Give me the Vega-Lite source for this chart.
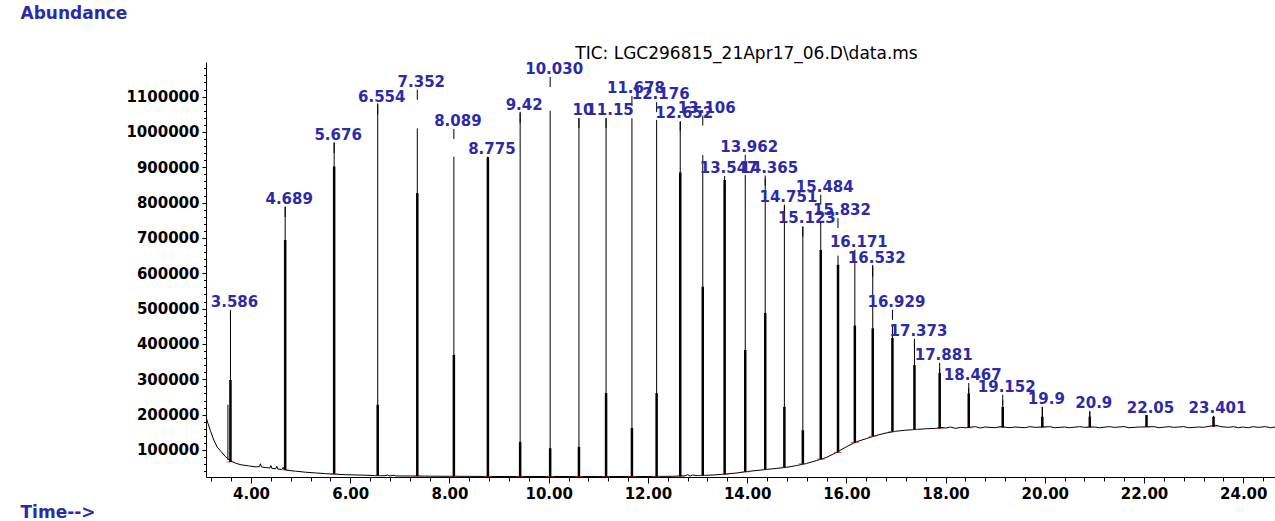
{
  "$schema": "https://vega.github.io/schema/vega-lite/v6.json",
  "width": 1069,
  "height": 415,
  "autosize": {"type": "none"},
  "padding": {"left": 206, "top": 62, "right": 0, "bottom": 44},
  "background": "white",
  "title": {"text": "TIC: LGC296815_21Apr17_06.D\\data.ms", "anchor": "middle", "dx": 6, "dy": 75, "offset": 3, "font": "DejaVu Sans", "fontSize": 17, "fontWeight": "normal", "color": "black", "baseline": "alphabetic"},
  "config": {
    "view": {"stroke": null},
    "axis": {"grid": false, "domainColor": "black", "tickColor": "black", "labelColor": "black", "labelFont": "DejaVu Sans", "labelFontWeight": "bold", "labelFontSize": 15, "titleFont": "DejaVu Sans", "titleFontWeight": "bold", "titleFontSize": 17, "titleColor": "#2b2ba8"}
  },
  "datasets": {
    "baseline": [
      {"rt": 3.093, "abundance": 178000}, {"rt": 3.11, "abundance": 186000}, {"rt": 3.13, "abundance": 176000}, {"rt": 3.18, "abundance": 155000},
      {"rt": 3.25, "abundance": 128000}, {"rt": 3.32, "abundance": 108000}, {"rt": 3.40, "abundance": 95000}, {"rt": 3.48, "abundance": 82000},
      {"rt": 3.55, "abundance": 73000}, {"rt": 3.62, "abundance": 67000}, {"rt": 3.70, "abundance": 62000}, {"rt": 3.80, "abundance": 58000},
      {"rt": 3.95, "abundance": 55000}, {"rt": 4.10, "abundance": 52000}, {"rt": 4.17, "abundance": 53000}, {"rt": 4.19, "abundance": 61000},
      {"rt": 4.21, "abundance": 52000}, {"rt": 4.30, "abundance": 50000}, {"rt": 4.38, "abundance": 49000}, {"rt": 4.40, "abundance": 56000},
      {"rt": 4.42, "abundance": 48000}, {"rt": 4.50, "abundance": 47000}, {"rt": 4.52, "abundance": 54000}, {"rt": 4.54, "abundance": 46000},
      {"rt": 4.62, "abundance": 45000}, {"rt": 4.65, "abundance": 51000}, {"rt": 4.67, "abundance": 44000}, {"rt": 4.75, "abundance": 42000},
      {"rt": 4.90, "abundance": 40000}, {"rt": 5.10, "abundance": 37000}, {"rt": 5.30, "abundance": 35000}, {"rt": 5.50, "abundance": 33000},
      {"rt": 5.70, "abundance": 31500}, {"rt": 5.90, "abundance": 30000}, {"rt": 6.20, "abundance": 29000}, {"rt": 6.50, "abundance": 27500},
      {"rt": 6.70, "abundance": 27000}, {"rt": 6.75, "abundance": 29000}, {"rt": 6.80, "abundance": 26500}, {"rt": 6.88, "abundance": 28500},
      {"rt": 6.92, "abundance": 26500}, {"rt": 7.00, "abundance": 26500}, {"rt": 7.50, "abundance": 26000}, {"rt": 8.00, "abundance": 25500},
      {"rt": 9.00, "abundance": 25000}, {"rt": 10.00, "abundance": 25000}, {"rt": 11.00, "abundance": 25000}, {"rt": 12.00, "abundance": 25000},
      {"rt": 12.50, "abundance": 25500}, {"rt": 12.75, "abundance": 27000}, {"rt": 12.80, "abundance": 30000}, {"rt": 12.85, "abundance": 26000},
      {"rt": 12.90, "abundance": 29000}, {"rt": 13.00, "abundance": 27500}, {"rt": 13.30, "abundance": 29000}, {"rt": 13.50, "abundance": 31000},
      {"rt": 13.80, "abundance": 35000}, {"rt": 14.00, "abundance": 39000}, {"rt": 14.20, "abundance": 42000}, {"rt": 14.40, "abundance": 45000},
      {"rt": 14.60, "abundance": 48000}, {"rt": 14.80, "abundance": 51000}, {"rt": 15.00, "abundance": 56000}, {"rt": 15.20, "abundance": 62000},
      {"rt": 15.40, "abundance": 70000}, {"rt": 15.60, "abundance": 79000}, {"rt": 15.80, "abundance": 93000}, {"rt": 16.00, "abundance": 109000},
      {"rt": 16.20, "abundance": 123000}, {"rt": 16.40, "abundance": 132000}, {"rt": 16.60, "abundance": 141000}, {"rt": 16.80, "abundance": 148000},
      {"rt": 17.00, "abundance": 153000}, {"rt": 17.20, "abundance": 156000}, {"rt": 17.40, "abundance": 158000}, {"rt": 17.60, "abundance": 160000},
      {"rt": 17.80, "abundance": 161000}, {"rt": 17.90, "abundance": 164000}, {"rt": 18.00, "abundance": 162000}, {"rt": 18.10, "abundance": 165000},
      {"rt": 18.20, "abundance": 161000}, {"rt": 18.30, "abundance": 164000}, {"rt": 18.40, "abundance": 163000}, {"rt": 18.60, "abundance": 166000},
      {"rt": 18.70, "abundance": 162000}, {"rt": 18.80, "abundance": 165000}, {"rt": 19.00, "abundance": 163000}, {"rt": 19.10, "abundance": 166000},
      {"rt": 19.30, "abundance": 163000}, {"rt": 19.40, "abundance": 165000}, {"rt": 19.60, "abundance": 163000}, {"rt": 19.70, "abundance": 166000},
      {"rt": 19.80, "abundance": 164000}, {"rt": 20.10, "abundance": 166000}, {"rt": 20.20, "abundance": 163000}, {"rt": 20.40, "abundance": 165000},
      {"rt": 20.50, "abundance": 163000}, {"rt": 20.70, "abundance": 166000}, {"rt": 20.80, "abundance": 164000}, {"rt": 21.00, "abundance": 165000},
      {"rt": 21.10, "abundance": 163000}, {"rt": 21.30, "abundance": 166000}, {"rt": 21.40, "abundance": 164000}, {"rt": 21.60, "abundance": 166000},
      {"rt": 21.70, "abundance": 163000}, {"rt": 21.90, "abundance": 165000}, {"rt": 22.20, "abundance": 166000}, {"rt": 22.30, "abundance": 163000},
      {"rt": 22.50, "abundance": 166000}, {"rt": 22.60, "abundance": 164000}, {"rt": 22.80, "abundance": 166000}, {"rt": 22.90, "abundance": 163000},
      {"rt": 23.10, "abundance": 165000}, {"rt": 23.20, "abundance": 164000}, {"rt": 23.35, "abundance": 168000}, {"rt": 23.45, "abundance": 170000},
      {"rt": 23.55, "abundance": 166000}, {"rt": 23.70, "abundance": 164000}, {"rt": 23.80, "abundance": 166000}, {"rt": 23.90, "abundance": 163000},
      {"rt": 24.00, "abundance": 165000}, {"rt": 24.10, "abundance": 163000}, {"rt": 24.20, "abundance": 166000}, {"rt": 24.30, "abundance": 164000},
      {"rt": 24.45, "abundance": 166000}, {"rt": 24.55, "abundance": 163000}, {"rt": 24.64, "abundance": 165000}
    ],
    "minor": [
      {"rt": 3.535, "base": 72000, "apex": 228000}
    ],
    "peaks": [
      {"rt": 3.586, "base": 66000, "thick": 298000, "apex": 491000, "label": "3.586", "labelY": 505000},
      {"rt": 4.689, "base": 44000, "thick": 694000, "apex": 789000, "label": "4.689", "labelY": 796000},
      {"rt": 5.676, "base": 32000, "thick": 902000, "apex": 971000, "label": "5.676", "labelY": 977000},
      {"rt": 6.554, "base": 27500, "thick": 228000, "apex": 1081000, "label": "6.554", "labelY": 1086000},
      {"rt": 7.352, "base": 26000, "thick": 827000, "apex": 1010000, "label": "7.352", "labelY": 1128000},
      {"rt": 8.089, "base": 25500, "thick": 369000, "apex": 930000, "label": "8.089", "labelY": 1017000},
      {"rt": 8.775, "base": 25000, "thick": 928000, "apex": 930000, "label": "8.775", "labelY": 938000},
      {"rt": 9.425, "base": 25000, "thick": 123000, "apex": 1057000, "label": "9.42", "labelY": 1062000},
      {"rt": 10.030, "base": 25000, "thick": 105000, "apex": 1060000, "label": "10.030", "labelY": 1164000},
      {"rt": 10.61, "base": 25000, "thick": 109000, "apex": 1039000, "label": "10", "labelY": 1048000},
      {"rt": 11.157, "base": 25000, "thick": 261000, "apex": 1039000, "label": "11.15", "labelY": 1048000},
      {"rt": 11.678, "base": 25000, "thick": 162000, "apex": 1039000, "label": "11.678", "labelY": 1110000},
      {"rt": 12.176, "base": 25000, "thick": 261000, "apex": 1034000, "label": "12.176", "labelY": 1093000},
      {"rt": 12.652, "base": 25500, "thick": 885000, "apex": 1029000, "label": "12.652", "labelY": 1039000},
      {"rt": 13.106, "base": 27500, "thick": 562000, "apex": 935000, "label": "13.106", "labelY": 1055000},
      {"rt": 13.547, "base": 31000, "thick": 864000, "apex": 864000, "label": "13.547", "labelY": 884000},
      {"rt": 13.962, "base": 38000, "thick": 383000, "apex": 878000, "label": "13.962", "labelY": 944000},
      {"rt": 14.365, "base": 45000, "thick": 488000, "apex": 869000, "label": "14.365", "labelY": 885000},
      {"rt": 14.751, "base": 51000, "thick": 222000, "apex": 790000, "label": "14.751", "labelY": 803000},
      {"rt": 15.123, "base": 61000, "thick": 156000, "apex": 732000, "label": "15.123", "labelY": 741000},
      {"rt": 15.484, "base": 74000, "thick": 666000, "apex": 745000, "label": "15.484", "labelY": 831000},
      {"rt": 15.832, "base": 93000, "thick": 624000, "apex": 650000, "label": "15.832", "labelY": 765000},
      {"rt": 16.171, "base": 121000, "thick": 452000, "apex": 640000, "label": "16.171", "labelY": 675000},
      {"rt": 16.532, "base": 139000, "thick": 444000, "apex": 624000, "label": "16.532", "labelY": 628000},
      {"rt": 16.929, "base": 152000, "thick": 417000, "apex": 454000, "label": "16.929", "labelY": 505000},
      {"rt": 17.373, "base": 158000, "thick": 340000, "apex": 411000, "label": "17.373", "labelY": 423000},
      {"rt": 17.881, "base": 161000, "thick": 318000, "apex": 330000, "label": "17.881", "labelY": 355000},
      {"rt": 18.467, "base": 163000, "thick": 260000, "apex": 275000, "label": "18.467", "labelY": 298000},
      {"rt": 19.152, "base": 164000, "thick": 222000, "apex": 240000, "label": "19.152", "labelY": 265000},
      {"rt": 19.95, "base": 164000, "thick": 194000, "apex": 222000, "label": "19.9", "labelY": 230000},
      {"rt": 20.907, "base": 165000, "thick": 194000, "apex": 208000, "label": "20.9", "labelY": 219000},
      {"rt": 22.05, "base": 165000, "thick": 199000, "apex": 199000, "label": "22.05", "labelY": 205000},
      {"rt": 23.401, "base": 166000, "thick": 194000, "apex": 194000, "label": "23.401", "labelY": 205000}
    ]
  },
  "layer": [
    {
      "data": {"name": "baseline"},
      "mark": {"type": "line", "color": "black", "strokeWidth": 1, "clip": true},
      "encoding": {
        "x": {"field": "rt", "type": "quantitative", "scale": {"domain": [3.093, 24.64], "nice": false, "zero": false},
          "axis": {"orient": "bottom", "values": [4, 6, 8, 10, 12, 14, 16, 18, 20, 22, 24], "format": ".2f", "tickSize": 6, "labelPadding": 3,
            "title": "Time-->", "titleAngle": 0, "titleAlign": "left", "titleX": -186, "titleY": 40, "titleBaseline": "alphabetic"}},
        "y": {"field": "abundance", "type": "quantitative", "scale": {"domain": [23500, 1198000], "nice": false, "zero": false},
          "axis": {"orient": "left", "values": [100000, 200000, 300000, 400000, 500000, 600000, 700000, 800000, 900000, 1000000, 1100000], "format": "d", "tickSize": 4, "labelPadding": 3,
            "title": "Abundance", "titleAngle": 0, "titleAlign": "left", "titleX": -186, "titleY": -44, "titleBaseline": "alphabetic"}}
      }
    },
    {
      "data": {"name": "minor"},
      "mark": {"type": "rule", "color": "black", "strokeWidth": 1},
      "encoding": {
        "x": {"field": "rt", "type": "quantitative", "scale": {"domain": [3.093, 24.64], "nice": false, "zero": false},
          "axis": {"orient": "bottom", "values": [3.2, 3.6, 4, 4.4, 4.8, 5.2, 5.6, 6, 6.4, 6.8, 7.2, 7.6, 8, 8.4, 8.8, 9.2, 9.6, 10, 10.4, 10.8, 11.2, 11.6, 12, 12.4, 12.8, 13.2, 13.6, 14, 14.4, 14.8, 15.2, 15.6, 16, 16.4, 16.8, 17.2, 17.6, 18, 18.4, 18.8, 19.2, 19.6, 20, 20.4, 20.8, 21.2, 21.6, 22, 22.4, 22.8, 23.2, 23.6, 24, 24.4],
            "labels": false, "domain": false, "tickSize": 4, "title": null}},
        "y": {"field": "base", "type": "quantitative", "scale": {"domain": [23500, 1198000], "nice": false, "zero": false},
          "axis": {"orient": "left", "values": [40000, 60000, 80000, 100000, 120000, 140000, 160000, 180000, 200000, 220000, 240000, 260000, 280000, 300000, 320000, 340000, 360000, 380000, 400000, 420000, 440000, 460000, 480000, 500000, 520000, 540000, 560000, 580000, 600000, 620000, 640000, 660000, 680000, 700000, 720000, 740000, 760000, 780000, 800000, 820000, 840000, 860000, 880000, 900000, 920000, 940000, 960000, 980000, 1000000, 1020000, 1040000, 1060000, 1080000, 1100000, 1120000, 1140000, 1160000, 1180000],
            "labels": false, "domain": false, "tickSize": 2.5, "title": null}},
        "y2": {"field": "apex"}
      }
    },
    {
      "data": {"name": "peaks"},
      "mark": {"type": "tick", "orient": "horizontal", "color": "#d42a2a", "size": 8, "thickness": 1},
      "encoding": {
        "x": {"field": "rt", "type": "quantitative", "axis": null, "scale": {"domain": [3.093, 24.64], "nice": false, "zero": false}},
        "y": {"field": "base", "type": "quantitative", "axis": null, "scale": {"domain": [23500, 1198000], "nice": false, "zero": false}}
      }
    },
    {
      "data": {"name": "peaks"},
      "mark": {"type": "rule", "color": "black", "strokeWidth": 2.5},
      "encoding": {
        "x": {"field": "rt", "type": "quantitative", "axis": null, "scale": {"domain": [3.093, 24.64], "nice": false, "zero": false}},
        "y": {"field": "base", "type": "quantitative", "axis": null, "scale": {"domain": [23500, 1198000], "nice": false, "zero": false}},
        "y2": {"field": "thick"}
      }
    },
    {
      "data": {"name": "peaks"},
      "mark": {"type": "rule", "color": "black", "strokeWidth": 1},
      "encoding": {
        "x": {"field": "rt", "type": "quantitative", "axis": null, "scale": {"domain": [3.093, 24.64], "nice": false, "zero": false}},
        "y": {"field": "base", "type": "quantitative", "axis": null, "scale": {"domain": [23500, 1198000], "nice": false, "zero": false}},
        "y2": {"field": "apex"}
      }
    },
    {
      "data": {"name": "peaks"},
      "mark": {"type": "rule", "color": "black", "strokeWidth": 1, "yOffset": 3, "y2Offset": 13},
      "encoding": {
        "x": {"field": "rt", "type": "quantitative", "axis": null, "scale": {"domain": [3.093, 24.64], "nice": false, "zero": false}},
        "y": {"field": "labelY", "type": "quantitative", "axis": null, "scale": {"domain": [23500, 1198000], "nice": false, "zero": false}},
        "y2": {"field": "labelY"}
      }
    },
    {
      "data": {"name": "peaks"},
      "mark": {"type": "text", "align": "center", "baseline": "alphabetic", "dx": 4, "font": "DejaVu Sans", "fontSize": 15, "fontWeight": "bold", "fill": "#2b2ba8"},
      "encoding": {
        "x": {"field": "rt", "type": "quantitative", "axis": null, "scale": {"domain": [3.093, 24.64], "nice": false, "zero": false}},
        "y": {"field": "labelY", "type": "quantitative", "axis": null, "scale": {"domain": [23500, 1198000], "nice": false, "zero": false}},
        "text": {"field": "label"}
      }
    }
  ],
  "resolve": {"axis": {"x": "independent", "y": "independent"}}
}
